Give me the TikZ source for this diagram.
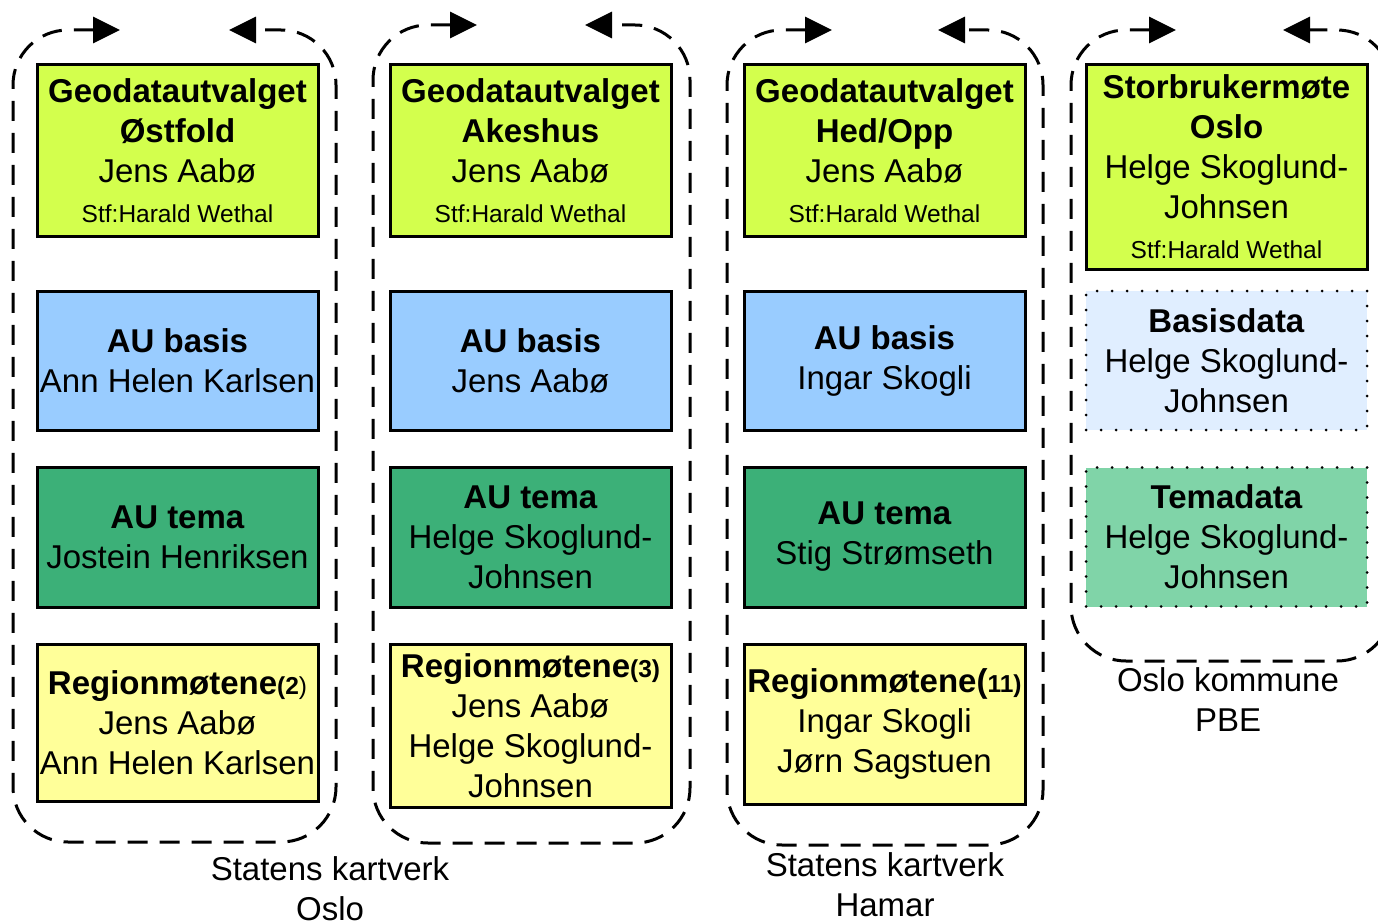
\documentclass[tikz,border=0pt]{standalone}
\usepackage{fontspec}
\setmainfont{Liberation Sans}
\usetikzlibrary{arrows.meta}

\definecolor{geolime}{RGB}{211,255,77}
\definecolor{basisblue}{RGB}{153,204,255}
\definecolor{temagreen}{RGB}{60,176,120}
\definecolor{regionyellow}{RGB}{255,255,153}
\definecolor{lightbasis}{RGB}{224,238,255}
\definecolor{lighttema}{RGB}{128,212,168}

\newcommand{\smalltxt}{\fontsize{24.5}{40}\selectfont}

\begin{document}
\begin{tikzpicture}
		[x=1pt,y=-1pt,
		every node/.style={font=\fontsize{33}{40}\selectfont,align=center,inner sep=0pt},
		box/.style={rectangle,draw,line width=3pt,minimum width=281pt},
		geo/.style={box,fill=geolime,minimum height=171pt},
		basis/.style={box,fill=basisblue,minimum height=139pt},
		tema/.style={box,fill=temagreen,minimum height=140pt},
		region/.style={box,fill=regionyellow},
		dotbox/.style={rectangle,draw,line width=3pt,line cap=round,dash pattern=on 0pt off 15pt,minimum width=281pt,minimum height=139pt},
		office/.style={line width=3pt,dash pattern=on 20pt off 12pt,rounded corners=55pt,
			{Triangle[length=27pt,width=26pt]}-{Triangle[length=27pt,width=26pt]}}]
		\useasboundingbox (0,0) rectangle (1378,923);

		% draw the boxes, Oslo
		\node [geo] (geo1) at (177.5,150.5) {\textbf{Geodatautvalget}\\\textbf{Østfold}\\Jens Aabø\\{\smalltxt Stf:Harald Wethal}};
		\node [basis] (basis1) at (177.5,360.5) {\textbf{AU basis}\\Ann Helen Karlsen};
		\node [tema] (tema1) at (177.5,537) {\textbf{AU tema}\\Jostein Henriksen};
		\node [region,minimum height=157pt] (region1) at (177.5,722.5) {\textbf{Regionmøtene}{\smalltxt\textbf{(2})}\\Jens Aabø\\Ann Helen Karlsen};

		% draw the boxes, Akershus
		\node [geo] (geo2) at (530.5,150.5) {\textbf{Geodatautvalget}\\\textbf{Akeshus}\\Jens Aabø\\{\smalltxt Stf:Harald Wethal}};
		\node [basis] (basis2) at (530.5,360.5) {\textbf{AU basis}\\Jens Aabø};
		\node [tema] (tema2) at (530.5,537) {\textbf{AU tema}\\Helge Skoglund-\\Johnsen};
		\node [region,minimum height=163pt] (region2) at (530.5,725.5) {\textbf{Regionmøtene}{\smalltxt\textbf{(3)}}\\Jens Aabø\\Helge Skoglund-\\Johnsen};

		% draw the boxes, Hamar
		\node [geo] (geo3) at (884.5,150.5) {\textbf{Geodatautvalget}\\\textbf{Hed/Opp}\\Jens Aabø\\{\smalltxt Stf:Harald Wethal}};
		\node [basis] (basis3) at (884.5,360.5) {\textbf{AU basis}\\Ingar Skogli};
		\node [tema] (tema3) at (884.5,537) {\textbf{AU tema}\\Stig Strømseth};
		\node [region,minimum height=160pt] (region3) at (884.5,724) {\textbf{Regionmøtene(}{\smalltxt\textbf{11)}}\\Ingar Skogli\\Jørn Sagstuen};

		% draw the boxes, Oslo kommune
		\node [geo,minimum height=204pt] (geo4) at (1226.5,167) {\textbf{Storbrukermøte}\\\textbf{Oslo}\\Helge Skoglund-\\Johnsen\\{\smalltxt Stf:Harald Wethal}};
		\node [dotbox,fill=lightbasis] (basis4) at (1226.5,360.5) {\textbf{Basisdata}\\Helge Skoglund-\\Johnsen};
		\node [dotbox,fill=lighttema] (tema4) at (1226.5,537) {\textbf{Temadata}\\Helge Skoglund-\\Johnsen};

		% draw the dashed loops round each office
		\coordinate (osloA) at (120,30);
		\coordinate (osloB) at (229,30);
		\coordinate (akA) at (477,25);
		\coordinate (akB) at (585,25);
		\coordinate (hamarA) at (832,30);
		\coordinate (hamarB) at (938,30);
		\coordinate (pbeA) at (1176,30);
		\coordinate (pbeB) at (1283,30);
		\draw [office] (osloA) -- (13,30) -- (13,842) -- (336,842) -- (336,30) -- (osloB);
		\draw [office] (akA) -- (373,25) -- (373,843) -- (690,843) -- (690,25) -- (akB);
		\draw [office] (hamarA) -- (727,30) -- (727,845) -- (1043,845) -- (1043,30) -- (hamarB);
		\draw [office] (pbeA) -- (1071,30) -- (1071,661) -- (1392,661) -- (1392,30) -- (pbeB);

		% the office names
		\node (oslo) at (330,889) {Statens kartverk\\Oslo};
		\node (hamar) at (885,885) {Statens kartverk\\Hamar};
		\node (pbe) at (1228,700) {Oslo kommune\\PBE};
	\end{tikzpicture}
\end{document}
